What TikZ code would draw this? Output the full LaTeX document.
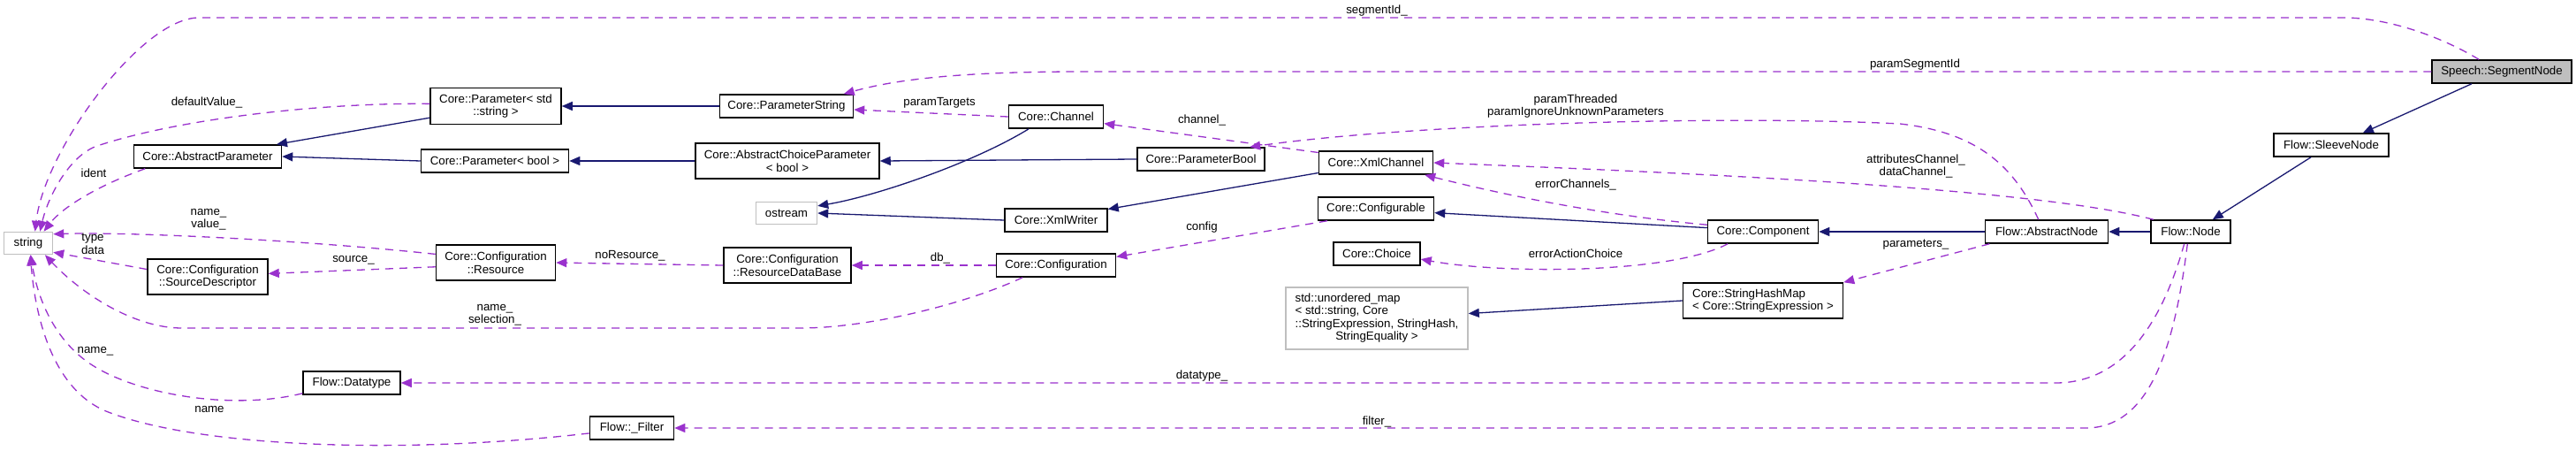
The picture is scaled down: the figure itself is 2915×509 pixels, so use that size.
\documentclass[tikz,border=0pt]{standalone}
\usepackage{fontspec}
\setmainfont{Liberation Sans}
\usetikzlibrary{arrows.meta}
\definecolor{inhblue}{HTML}{191970}
\definecolor{usepurple}{HTML}{9A32CD}
\definecolor{extgray}{HTML}{BFBFBF}

\begin{document}
\begin{tikzpicture}[x=1pt,y=-1pt]
    \tikzstyle{cls}=[draw=black, line width=1.5pt, fill=white, inner sep=2pt, minimum height=26pt, align=center, font=\fontsize{13.3}{14.5}\selectfont]
    \tikzstyle{extcls}=[cls, draw=extgray]
    \tikzstyle{focus cls}=[cls, fill=extgray]
    \tikzstyle{lbl}=[align=center, inner sep=0pt, font=\fontsize{13.3}{14.5}\selectfont]
    \tikzstyle{inherit}=[draw=inhblue, line width=1.3pt, -{Triangle[length=12pt,width=10pt]}]
    \tikzstyle{usage}=[draw=usepurple, line width=1.3pt, dash pattern=on 9pt off 7pt, -{Triangle[length=12pt,width=10pt]}]

\fill[white] (0,0) rectangle (2915,509);
\useasboundingbox (0,0) rectangle (2915,509);

% Classes
\node[extcls, minimum width=55pt, minimum height=25pt] (string) at (32,275) {string};
\node[cls, minimum width=148pt, minimum height=41pt] (paramStd) at (561,120) {Core::Parameter< std\\::string >};
\node[cls, minimum width=167pt] (absParam) at (235,177) {Core::AbstractParameter};
\node[cls, minimum width=167pt] (paramBoolT) at (560,182) {Core::Parameter< bool >};
\node[cls, minimum width=136pt, minimum height=40pt] (srcDesc) at (235,313) {Core::Configuration\\::SourceDescriptor};
\node[cls, minimum width=135pt, minimum height=40pt] (resource) at (561,297) {Core::Configuration\\::Resource};
\node[cls, minimum width=110pt] (datatype) at (398,433) {Flow::Datatype};
\node[cls, minimum width=95pt] (filter) at (715,484) {Flow::\_Filter};
\node[cls, minimum width=151pt] (paramString) at (890,120) {Core::ParameterString};
\node[cls, minimum width=208pt, minimum height=40pt] (absChoice) at (891,182) {Core::AbstractChoiceParameter\\< bool >};
\node[extcls, minimum width=69pt, minimum height=25pt] (ostream) at (890,241) {ostream};
\node[cls, minimum width=144pt, minimum height=40pt] (resDB) at (891,300) {Core::Configuration\\::ResourceDataBase};
\node[cls, minimum width=107pt] (channel) at (1195,132) {Core::Channel};
\node[cls, minimum width=144pt] (paramBool) at (1359,180) {Core::ParameterBool};
\node[cls, minimum width=116pt] (xmlWriter) at (1195,249) {Core::XmlWriter};
\node[cls, minimum width=135pt] (config) at (1195,300) {Core::Configuration};
\node[cls, minimum width=129pt] (xmlChannel) at (1557,184) {Core::XmlChannel};
\node[cls, minimum width=131pt] (configurable) at (1557,236) {Core::Configurable};
\node[cls, minimum width=98pt] (choice) at (1558,287) {Core::Choice};
\node[extcls, minimum width=206pt, minimum height=70pt] (umap) at (1558,360) {\begin{tabular}{@{}l@{}}std::unordered\_map\\< std::string, Core\\::StringExpression, StringHash,\\\multicolumn{1}{@{}c@{}}{StringEquality >}\end{tabular}};
\node[cls, minimum width=125pt] (component) at (1995,262) {Core::Component};
\node[cls, minimum width=181pt, minimum height=40pt, align=left] (hashMap) at (1995,340) {Core::StringHashMap\\< Core::StringExpression >};
\node[focus cls, minimum width=158pt] (segNode) at (2831,81) {Speech::SegmentNode};
\node[cls, minimum width=130pt] (sleeve) at (2638,164) {Flow::SleeveNode};
\node[cls, minimum width=139pt] (absNode) at (2316,262) {Flow::AbstractNode};
\node[cls, minimum width=90pt] (flowNode) at (2479,262) {Flow::Node};

% Heritage
\draw[inherit] (paramStd.190) -- (absParam.10);
\draw[inherit] (paramBoolT.west) -- (absParam.east);
\draw[inherit] (paramString.west) -- (paramStd.east);
\draw[inherit] (absChoice.west) -- (paramBoolT.east);
\draw[inherit] (paramBool.west) -- (absChoice.east);
\draw[inherit] (channel.204) .. controls (1100,185) and (990,222) .. (ostream.13);
\draw[inherit] (xmlWriter.west) -- (ostream.east);
\draw[inherit] (xmlChannel.190) -- (xmlWriter.12);
\draw[inherit] (component.176) -- (configurable.-4);
\draw[inherit] (absNode.west) -- (component.east);
\draw[inherit] (flowNode.west) -- (absNode.east);
\draw[inherit] (sleeve.211) -- (flowNode.29);
\draw[inherit] (segNode.202) -- (sleeve.21);
\draw[inherit] (hashMap.west) -- (umap.3);

% Membres
\draw[usage] (segNode.152) .. controls (2760,40) and (2700,20) .. (2652,20) -- (225,20) .. controls (160,20) and (50,170) .. (string.60);
\node[lbl] (l-segId) at (1558,12) {segmentId\_};

\draw[usage] (segNode.west) -- (1226,81) .. controls (1100,81) and (1020,88) .. (paramString.12);
\node[lbl] (l-paramSegId) at (2167,73) {paramSegmentId};

\draw[usage] (paramStd.178) .. controls (360,116) and (200,135) .. (110,165) .. controls (80,175) and (55,220) .. (string.45);
\node[lbl] (l-default) at (234,116) {defaultValue\_};

\draw[usage] (absParam.191) .. controls (110,210) and (70,235) .. (string.37);
\node[lbl] (l-ident) at (106,196) {ident};

\draw[usage] (resource.172) .. controls (350,272) and (150,262) .. (string.20);
\node[lbl] (l-namevalue) at (236,248) {name\_\\value\_};

\draw[usage] (srcDesc.173) -- (string.-20);
\node[lbl] (l-typedata) at (105,276) {type\\data};

\draw[usage] (config.200) .. controls (1090,345) and (980,371) .. (906,371) -- (206,371) .. controls (150,371) and (90,330) .. (string.-35);
\node[lbl] (l-nameselect) at (560,356) {name\_\\selection\_};

\draw[usage] (datatype.192) .. controls (260,465) and (150,445) .. (100,410) .. controls (60,382) and (42,335) .. (string.-78);
\node[lbl] (l-dtname) at (108,397) {name\_};

\draw[usage] (filter.187) .. controls (450,515) and (220,505) .. (120,465) .. controls (60,440) and (40,360) .. (string.-80);
\node[lbl] (l-fname) at (237,463) {name};

\draw[usage] (resource.184) -- (srcDesc.3);
\node[lbl] (l-source) at (400,294) {source\_};

\draw[usage] (resDB.west) -- (resource.east);
\node[lbl] (l-noRes) at (713,289) {noResource\_};

\draw[usage] (config.west) -- (resDB.east);
\node[lbl] (l-db) at (1064,292) {db\_};

\draw[usage] (channel.180) -- (paramString.-3);
\node[lbl] (l-targets) at (1063,116) {paramTargets};

\draw[usage] (xmlChannel.170) -- (channel.-8);
\node[lbl] (l-channel) at (1360,136) {channel\_};

\draw[usage] (absNode.124) .. controls (2280,190) and (2240,150) .. (2150,140) .. controls (1950,130) and (1600,140) .. (paramBool.14);
\node[lbl] (l-threaded) at (1783,120) {paramThreaded\\paramIgnoreUnknownParameters};

\draw[usage] (component.173) .. controls (1830,245) and (1720,225) .. (xmlChannel.-14);
\node[lbl] (l-errCh) at (1783,209) {errorChannels\_};

\draw[usage] (flowNode.162) .. controls (2300,212) and (1900,195) .. (xmlChannel.east);
\node[lbl] (l-attrCh) at (2168,188) {attributesChannel\_\\dataChannel\_};

\draw[usage] (component.199) .. controls (1890,310) and (1700,310) .. (choice.-7);
\node[lbl] (l-errAct) at (1783,287) {errorActionChoice};

\draw[usage] (absNode.192) -- (hashMap.north east);
\node[lbl] (l-params) at (2168,277) {parameters\_};

\draw[usage] (configurable.194) -- (config.8);
\node[lbl] (l-config) at (1360,257) {config};

\draw[usage] (flowNode.242) .. controls (2445,370) and (2400,433) .. (2326,433) -- (datatype.east);
\node[lbl] (l-datatype) at (1360,425) {datatype\_};

\draw[usage] (flowNode.255) .. controls (2460,400) and (2430,484) .. (2360,484) -- (filter.east);
\node[lbl] (l-filter) at (1558,477) {filter\_};

\end{tikzpicture}
\end{document}
